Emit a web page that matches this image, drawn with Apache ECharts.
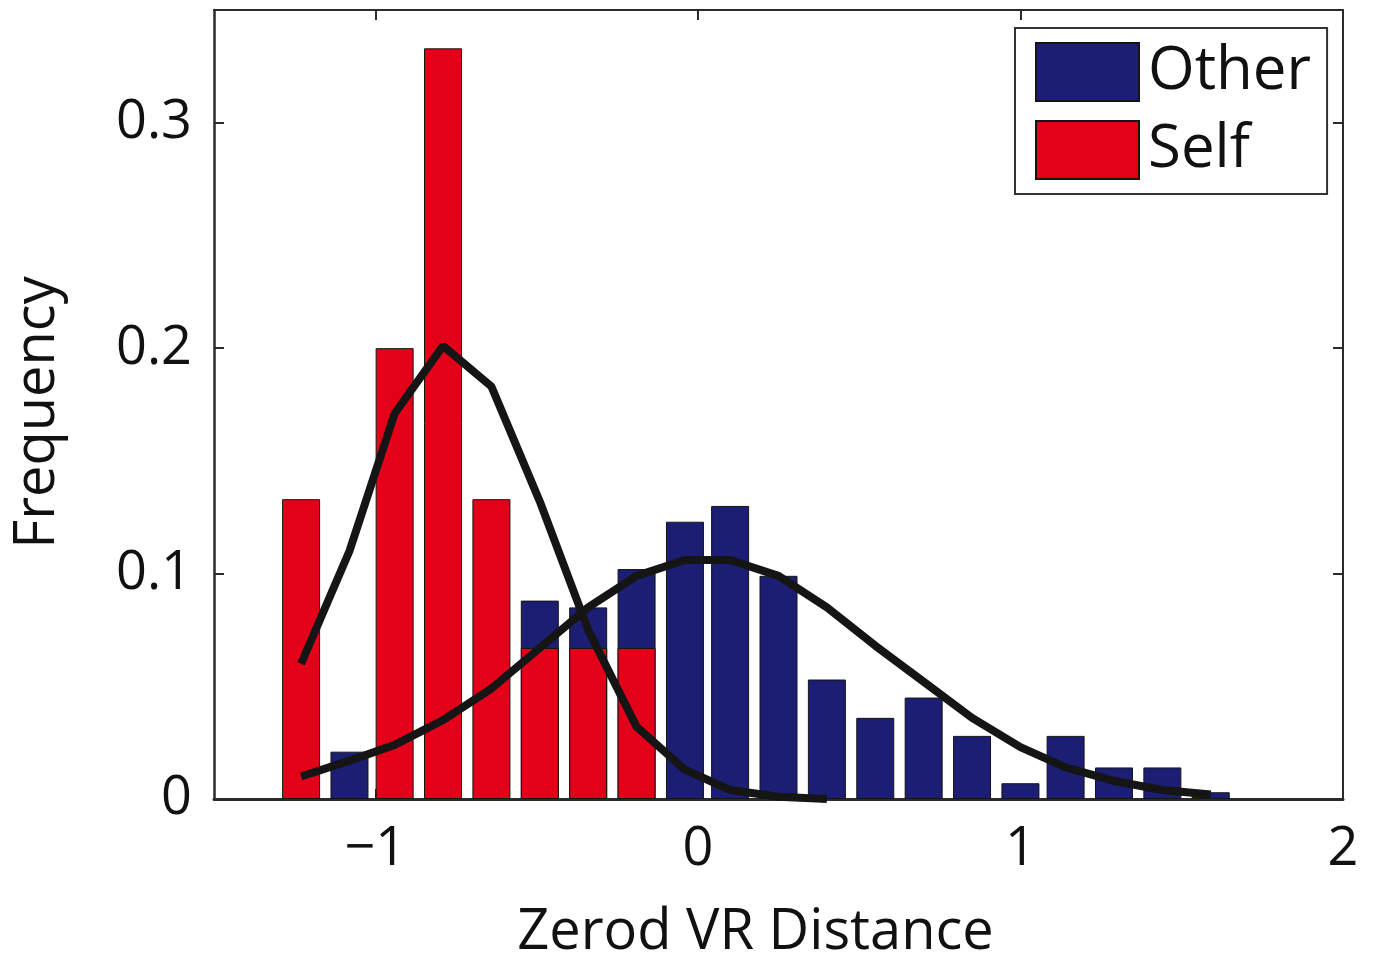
<!DOCTYPE html>
<html>
<head>
<meta charset="utf-8">
<script src="https://cdn.jsdelivr.net/npm/echarts@6/dist/echarts.min.js"></script>
<style>
html,body{margin:0;padding:0;background:#fff;}
#chart{width:1374px;height:958px;}
</style>
</head>
<body>
<div id="chart"></div>
<script>
// ---- data ----
const binCenters = [-1.23, -1.08, -0.94, -0.79, -0.64, -0.49, -0.34, -0.19, -0.04, 0.10,
                    0.25, 0.40, 0.55, 0.70, 0.85, 1.00, 1.14, 1.29, 1.44, 1.59];
const otherFreq = [0, 0.021, 0, 0, 0, 0.088, 0.085, 0.102, 0.123, 0.130,
                   0.099, 0.053, 0.036, 0.045, 0.028, 0.007, 0.028, 0.014, 0.014, 0.003];
const selfFreq  = [0.133, 0, 0.200, 0.333, 0.133, 0.067, 0.067, 0.067, 0, 0,
                   0, 0, 0, 0, 0, 0, 0, 0, 0, 0];
const otherFit  = [0.010, 0.017, 0.024, 0.035, 0.049, 0.067, 0.085, 0.099, 0.106, 0.106,
                   0.099, 0.085, 0.068, 0.052, 0.036, 0.023, 0.014, 0.008, 0.004, 0.002];
const selfFit   = [0.060, 0.110, 0.171, 0.201, 0.183, 0.132, 0.075, 0.032, 0.013, 0.004,
                   0.001, 0];
const xTicks = [-1, 0, 1, 2];
const yTicks = [0, 0.1, 0.2, 0.3];
const seriesNames = ['Other', 'Self'];

// ---- build ----
const pairs = (vals) => vals.map((v, i) => [binCenters[i], v]);
const barPairs = (vals) => vals.map((v, i) => [binCenters[i], v]).filter(p => p[1] > 0);

const FONT = 'Open Sans';
const BLUE = '#1c1e73';
const RED = '#e5001a';
const AXIS = '#2a2a2a';

const chart = echarts.init(document.getElementById('chart'));
const tickStyle = { inside: true, length: 10, lineStyle: { color: AXIS, width: 2 } };

chart.setOption({
  animation: false,
  backgroundColor: '#fff',
  textStyle: { fontFamily: FONT },
  grid: { left: 214, right: 31, top: 10, bottom: 159, containLabel: false, outerBoundsMode: 'none' },
  legend: {
    data: seriesNames,
    orient: 'vertical',
    left: 1015,
    top: 28,
    icon: 'rect',
    itemWidth: 103,
    itemHeight: 58,
    itemGap: 18,
    padding: [14, 16, 14, 20],
    borderColor: '#333',
    borderWidth: 2,
    backgroundColor: '#fff',
    textStyle: { fontFamily: FONT, fontSize: 60, color: '#111', lineHeight: 50, padding: [8, 0, 0, 4] }
  },
  xAxis: [{
    type: 'value', min: -1.5, max: 2, position: 'bottom',
    name: 'Zerod VR Distance', nameLocation: 'middle', nameGap: 106,
    nameTextStyle: { fontFamily: FONT, fontSize: 56, color: '#111', padding: [0, 46, 0, 0] },
    axisLine: { show: true, onZero: false, lineStyle: { color: AXIS, width: 3 } },
    axisTick: Object.assign({ show: true, customValues: xTicks }, tickStyle),
    axisLabel: {
      customValues: xTicks, margin: 24, fontFamily: FONT, fontSize: 54, color: '#111', lineHeight: 54,
      formatter: (v) => String(v).replace('-', '\u2212')
    },
    splitLine: { show: false }
  }, {
    type: 'value', min: -1.5, max: 2, position: 'top',
    axisLine: { show: true, onZero: false, lineStyle: { color: AXIS, width: 2 } },
    axisTick: Object.assign({ show: true, customValues: xTicks }, tickStyle),
    axisLabel: { show: false },
    splitLine: { show: false }
  }],
  yAxis: [{
    type: 'value', min: 0, max: 0.35, position: 'left',
    name: 'Frequency', nameLocation: 'middle', nameGap: 148,
    nameTextStyle: { fontFamily: FONT, fontSize: 56, color: '#111', padding: [0, 16, 0, 0] },
    axisLine: { show: true, onZero: false, lineStyle: { color: AXIS, width: 2.5 } },
    axisTick: Object.assign({ show: true, customValues: yTicks }, tickStyle),
    axisLabel: { customValues: yTicks, margin: 22, fontFamily: FONT, fontSize: 54, color: '#111' },
    splitLine: { show: false }
  }, {
    type: 'value', min: 0, max: 0.35, position: 'right',
    axisLine: { show: true, onZero: false, lineStyle: { color: AXIS, width: 2 } },
    axisTick: Object.assign({ show: true, customValues: yTicks }, tickStyle),
    axisLabel: { show: false },
    splitLine: { show: false }
  }],
  series: [
    {
      name: 'Other', type: 'bar', xAxisIndex: 0, yAxisIndex: 0,
      data: barPairs(otherFreq), barWidth: 38, barGap: '-100%',
      itemStyle: { color: BLUE, borderColor: '#151515', borderWidth: 1 },
      z: 2
    },
    {
      name: 'Self', type: 'bar', xAxisIndex: 0, yAxisIndex: 0,
      data: barPairs(selfFreq), barWidth: 38, barGap: '-100%',
      itemStyle: { color: RED, borderColor: '#151515', borderWidth: 1 },
      z: 3
    },
    {
      name: 'Other fit', type: 'line', xAxisIndex: 0, yAxisIndex: 0,
      data: pairs(otherFit), showSymbol: false, smooth: false,
      lineStyle: { color: '#151515', width: 8 }, z: 5
    },
    {
      name: 'Self fit', type: 'line', xAxisIndex: 0, yAxisIndex: 0,
      data: pairs(selfFit), showSymbol: false, smooth: false,
      lineStyle: { color: '#151515', width: 8 }, z: 5
    }
  ]
});
</script>
</body>
</html>
